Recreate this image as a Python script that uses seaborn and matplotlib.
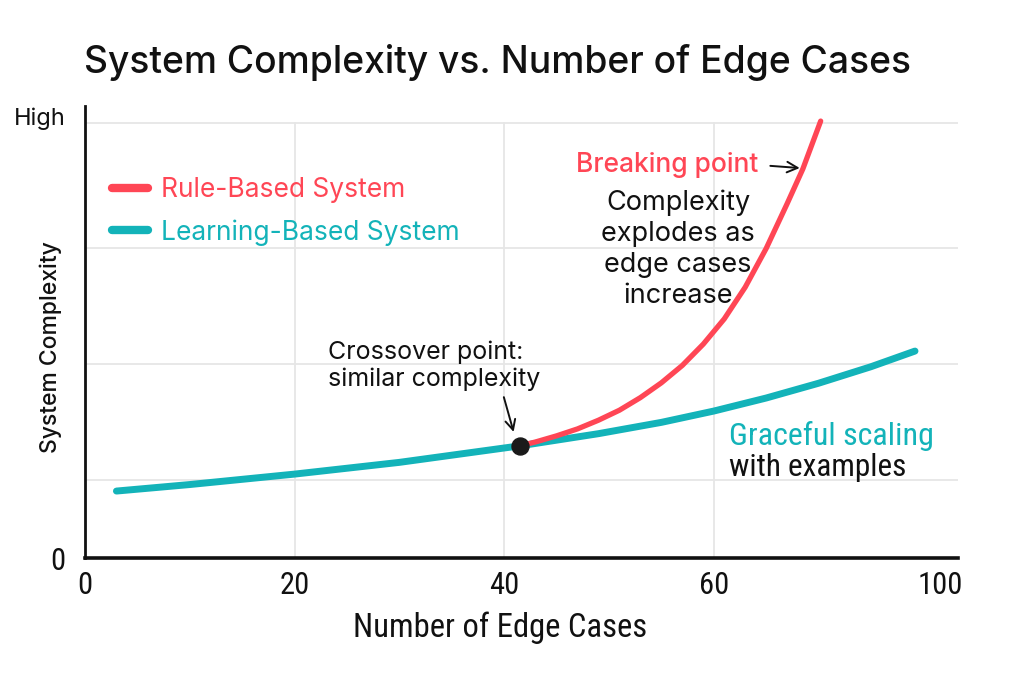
import matplotlib
matplotlib.use("Agg")
import matplotlib.pyplot as plt
import seaborn as sns

# readings from the reference (x: edge cases, y: complexity on a 0..104 scale)
learn_x = [3, 10, 20, 30, 41.5, 49, 55, 60, 65, 70, 75, 79.2]
learn_y = [15.4, 16.9, 19.3, 22.0, 25.8, 28.6, 31.2, 33.8, 36.8, 40.2, 44.0, 47.6]
rule_x = [41.5, 43, 45, 47, 49, 51, 53, 55, 57, 59, 61, 63, 65, 67, 68.5, 70.2]
rule_y = [25.8, 26.7, 28.1, 29.7, 31.7, 34.0, 36.9, 40.3, 44.3, 49.2, 55.0, 62.3, 71.2, 81.5, 89.5, 100.5]
cross_x = [41.5]
cross_y = [25.8]

xtick_pos = [0, 20, 40, 60, 81.6]
xtick_labels = ["0", "20", "40", "60", "100"]
ytick_pos = [0, 101.5]
ytick_labels = ["0", "High"]
vgrid = [20, 40, 60]
hgrid = [18, 44.7, 71.4, 100]

RED = "#FF4655"
TEAL = "#13B3B9"
INK = "#111111"
BODY = ["Inter", "DejaVu Sans"]
NARROW = ["Liberation Sans Narrow", "Roboto Condensed", "DejaVu Sans"]

sns.set_theme(style="white")
plt.rcParams["font.family"] = BODY

fig = plt.figure(figsize=(10.24, 6.83), dpi=100)
ax = fig.add_axes([0.083, 0.183, 0.8525, 0.662])

for g in vgrid:
    ax.axvline(g, ymax=100 / 104, color="#E6E6E6", lw=1.3, zorder=0)
for g in hgrid:
    ax.axhline(g, color="#E6E6E6", lw=1.3, zorder=0)

sns.lineplot(x=learn_x, y=learn_y, color=TEAL, linewidth=5, label="Learning-Based System",
             sort=False, ax=ax, zorder=3, solid_capstyle="round", solid_joinstyle="round")
sns.lineplot(x=rule_x, y=rule_y, color=RED, linewidth=3.8, label="Rule-Based System",
             sort=False, ax=ax, zorder=4, solid_capstyle="round", solid_joinstyle="round")
sns.scatterplot(x=cross_x, y=cross_y, color="#1a1a1a", s=150, ax=ax, zorder=5,
                edgecolor="#1a1a1a")

ax.set_xlim(0, 83.3)
ax.set_ylim(0, 104)
ax.set_xticks(xtick_pos, xtick_labels, family=NARROW, fontsize=22, color=INK)
ax.set_yticks(ytick_pos, ytick_labels, fontsize=17, color=INK)
ax.get_yticklabels()[0].set_family(NARROW)
ax.get_yticklabels()[0].set_fontsize(22)
ax.tick_params(axis="x", length=0, pad=9)
ax.tick_params(axis="y", length=0, pad=14)

for s in ["top", "right"]:
    ax.spines[s].set_visible(False)
ax.spines["left"].set_color(INK)
ax.spines["left"].set_linewidth(2)
ax.spines["bottom"].set_color(INK)
ax.spines["bottom"].set_linewidth(2.6)

ax.set_xlabel("Number of Edge Cases", family=NARROW, fontsize=23.5, color=INK)
ax.xaxis.set_label_coords(0.475, -0.118)
ax.set_ylabel("System Complexity", fontsize=16.5, fontweight="medium", color=INK)
ax.yaxis.set_label_coords(-0.026, 0.467)

handles, labels = ax.get_legend_handles_labels()
leg = ax.legend(handles[::-1], labels[::-1], loc="upper left", bbox_to_anchor=(0.031, 0.842),
                frameon=False, fontsize=19, handlelength=1.35, handletextpad=0.5,
                labelspacing=0.6, borderpad=0, borderaxespad=0, labelcolor="linecolor")
for line in leg.get_lines():
    line.set_linewidth(6)
    line.set_solid_capstyle("round")

ax.annotate("Crossover point:\nsimilar complexity", xy=(40.9, 29.0), xytext=(23.2, 44.2),
            fontsize=18, color=INK, va="center", ha="left",
            arrowprops=dict(arrowstyle="->", color=INK, lw=1.4, shrinkA=2, shrinkB=0,
                            relpos=(0.82, 0.0)))
ax.annotate("Breaking point", xy=(68.2, 89.7), xytext=(46.9, 90.4),
            fontsize=19, fontweight="medium", color=RED, va="center", ha="left",
            arrowprops=dict(arrowstyle="->", color=INK, lw=1.4, shrinkA=6, shrinkB=0,
                            relpos=(1.0, 0.5)))
ax.text(56.6, 71.0, "Complexity\nexplodes as\nedge cases\nincrease", fontsize=19.5, color=INK,
        ha="center", va="center", multialignment="center", linespacing=1.25)
ax.text(61.5, 28.1, "Graceful scaling", family=NARROW, fontsize=23, color=TEAL,
        ha="left", va="center")
ax.text(61.5, 20.9, "with examples", family=NARROW, fontsize=22.5, color=INK,
        ha="left", va="center")

fig.text(0.486, 0.909, "System Complexity vs. Number of Edge Cases", fontsize=26.8,
         fontweight="medium", color=INK, ha="center", va="center")

fig.savefig("out.png", dpi=100, facecolor="white")
